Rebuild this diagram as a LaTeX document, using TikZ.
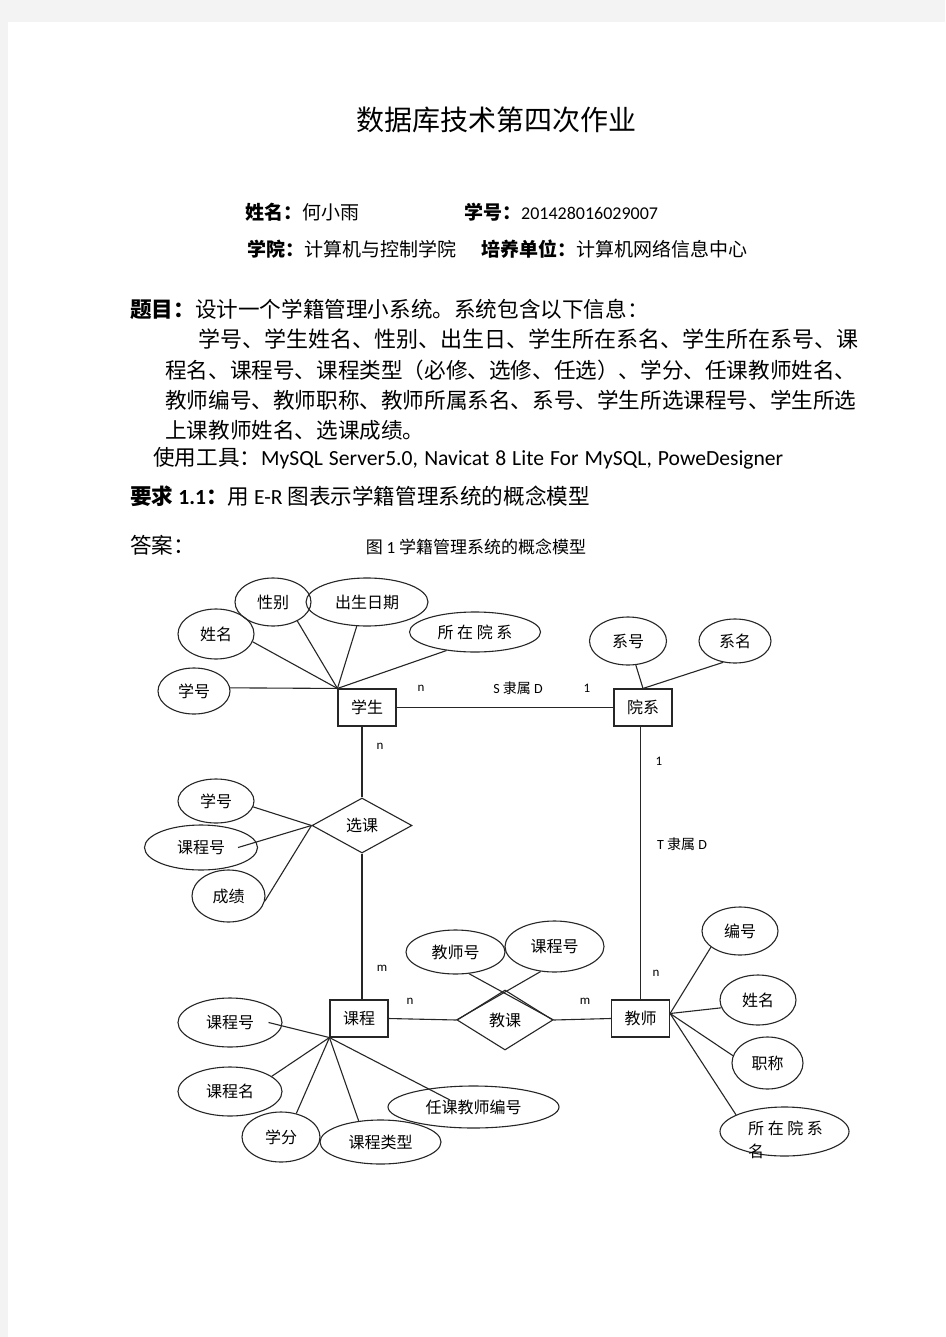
\documentclass[tikz,border=0pt]{standalone}
\usepackage{fontspec}
\setmainfont{Noto Sans CJK SC}
\newfontfamily\latfont{Carlito}
\usepackage{tikz}
\usetikzlibrary{positioning, shapes.geometric}
\definecolor{pagegray}{RGB}{243,243,243}

\begin{document}
\begin{tikzpicture}[x=1pt, y=-1pt,
entity node/.style={rectangle,draw=black!85,line width=1.1pt,minimum width=58pt,minimum height=37pt,inner sep=0pt,font=\fontsize{16}{16}\selectfont},
attr node/.style={ellipse,draw=black!85,line width=1.1pt,inner sep=0pt,font=\fontsize{16}{16}\selectfont},
rel node/.style={diamond,draw=black!85,line width=1.1pt,inner sep=0pt,font=\fontsize{16}{16}\selectfont},
esize/.style 2 args={minimum width=#1,minimum height=#2},
card node/.style={inner sep=0pt,font=\latfont\fontsize{13}{13}\selectfont},
head line/.style={anchor=west,inner sep=0pt,font=\fontsize{19}{19}\selectfont},
text line/.style={anchor=west,inner sep=0pt,font=\fontsize{21.6}{22}\selectfont}]

\useasboundingbox (0,0) rectangle (945,1337);
\fill[pagegray] (0,0) rectangle (945,1337);
\fill[white] (8,22) rectangle (945,1337);

\node[inner sep=0pt,font=\fontsize{28}{28}\selectfont] (title) at (496,120) {数据库技术第四次作业};

\node[head line] (name) at (245,212) {{\bfseries 姓名：}何小雨};
\node[head line] (sid) at (464,212) {{\bfseries 学号：}{\latfont\fontsize{18}{18}\selectfont 201428016029007}};
\node[head line] (inst) at (247,249) {{\bfseries 学院：}计算机与控制学院};
\node[head line] (unit) at (481,249) {{\bfseries 培养单位：}计算机网络信息中心};

\node[text line] (q0) at (130,309) {{\bfseries 题目：}设计一个学籍管理小系统。系统包含以下信息：};
\node[text line,font=\fontsize{22}{22}\selectfont] (q1) at (198,339) {学号、学生姓名、性别、出生日、学生所在系名、学生所在系号、课};
\node[text line] (q2) at (165,370) {程名、课程号、课程类型（必修、选修、任选）、学分、任课教师姓名、};
\node[text line] (q3) at (165,400) {教师编号、教师职称、教师所属系名、系号、学生所选课程号、学生所选};
\node[text line] (q4) at (165,430) {上课教师姓名、选课成绩。};
\node[text line] (tools) at (153,458) {使用工具：\makebox[522pt][s]{\latfont\fontsize{21.6}{22}\selectfont MySQL Server5.0, Navicat 8 Lite For MySQL, PoweDesigner}};
\node[text line] (req) at (130,496) {{\bfseries 要求 {\latfont 1.1}：}用 {\latfont E-R} 图表示学籍管理系统的概念模型};
\node[text line] (ans) at (130,545) {答案：};
\node[inner sep=0pt,font=\fontsize{17}{17}\selectfont] (cap) at (476,547) {图 {\latfont 1} 学籍管理系统的概念模型};

\node[entity node] (stu) at (367,707.5) {学生};
\node[entity node] (dept) at (643,707.5) {院系};
\node[entity node] (course) at (359,1018.5) {课程};
\node[entity node] (teacher) at (640.5,1018.5) {教师};

\node[rel node,esize={100pt}{55pt}] (choose) at (362,825.5) {选课};
\node[rel node,esize={96pt}{60pt}] (teach) at (505,1020) {教课};

\node[attr node,esize={76pt}{48pt}] (sex) at (273,602) {性别};
\node[attr node,esize={122pt}{48pt}] (birth) at (367,602) {出生日期};
\node[attr node,esize={76pt}{50pt}] (sname) at (216,634) {姓名};
\node[attr node,esize={131pt}{40pt}] (sdept) at (475,632) {所 在 院 系};
\node[attr node,esize={72pt}{46pt}] (sno) at (194,691) {学号};

\node[attr node,esize={77pt}{48pt}] (dno) at (628,641) {系号};
\node[attr node,esize={72pt}{44pt}] (dname) at (735,641) {系名};

\node[attr node,esize={76pt}{44pt}] (c_sno) at (216,801) {学号};
\node[attr node,esize={113pt}{45pt}] (c_cno) at (201,847.5) {课程号};
\node[attr node,esize={73pt}{52pt}] (grade) at (228.5,896) {成绩};

\node[attr node,esize={99pt}{44pt}] (t_tno) at (455.5,952) {教师号};
\node[attr node,esize={99pt}{51pt}] (t_cno) at (554.5,946.5) {课程号};

\node[attr node,esize={76pt}{48pt}] (tno) at (740,931) {编号};
\node[attr node,esize={76pt}{50pt}] (tname) at (758,1000) {姓名};
\node[attr node,esize={71pt}{52pt}] (ttitle) at (767.5,1063) {职称};
\node[attr node,esize={129pt}{49pt}] (tdept) at (784.5,1131.5) {};
\node[anchor=north west,align=left,inner sep=0pt,font=\fontsize{16}{23}\selectfont] (tdepttext) at (748,1121) {所 在 院 系\\名};

\node[attr node,esize={104pt}{49pt}] (k_cno) at (230,1022.5) {课程号};
\node[attr node,esize={104pt}{49pt}] (k_cname) at (230,1091.5) {课程名};
\node[attr node,esize={78pt}{50pt}] (credit) at (281,1137) {学分};
\node[attr node,esize={121pt}{44pt}] (ctype) at (380.5,1142) {课程类型};
\node[attr node,esize={171pt}{42pt}] (ctno) at (473.5,1107) {任课教师编号};

\node[card node] (c1) at (421,688) {n};
\node[card node,font=\fontsize{14}{14}\selectfont] (r1) at (518,688) {{\latfont S} 隶属 {\latfont D}};
\node[card node] (c2) at (587,688) {1};
\node[card node] (c3) at (380,746) {n};
\node[card node] (c4) at (382,968) {m};
\node[card node] (c5) at (659,761) {1};
\node[card node,font=\fontsize{14}{14}\selectfont] (r2) at (682,844) {{\latfont T} 隶属 {\latfont D}};
\node[card node] (c6) at (656,973) {n};
\node[card node] (c7) at (410,1001) {n};
\node[card node] (c8) at (585,1001) {m};

\path[draw=black!85,line width=1.1pt]
(stu.east) edge (dept.west)
(choose.north) edge (choose.north |- stu.south)
(choose.south) edge (choose.south |- course.north)
(teacher.north) edge (teacher.north |- dept.south)
(course.east) edge (teach.west)
(teach.east) edge (teacher.west)
(stu.north west) edge (sname.-12)
(stu.north west) edge (sex.-38)
(stu.north west) edge (birth.-113)
(stu.north west) edge (sdept.-147)
(stu.north west) edge (sno.5)
(dept.north) edge (dno.-72)
(dept.north) edge (dname.-119)
(choose.west) edge (c_sno.-9)
(choose.west) edge ([xshift=-20pt]c_cno.east)
(choose.west) edge (grade.-8)
(teach.east) edge (t_tno.-58)
(teach.west) edge (t_cno.-119)
([yshift=5pt]teacher.east) edge (tno.-151)
([yshift=5pt]teacher.east) edge (tname.-168)
([yshift=5pt]teacher.east) edge (ttitle.168)
([yshift=5pt]teacher.east) edge (tdept.161)
(course.south west) edge ([xshift=-14pt]k_cno.east)
(course.south west) edge (k_cname.20)
(course.south west) edge (credit.57)
(course.south west) edge (ctype.136)
(course.south west) edge ([xshift=-23.5pt,yshift=7pt]ctno.center)
;
\end{tikzpicture}
\end{document}
